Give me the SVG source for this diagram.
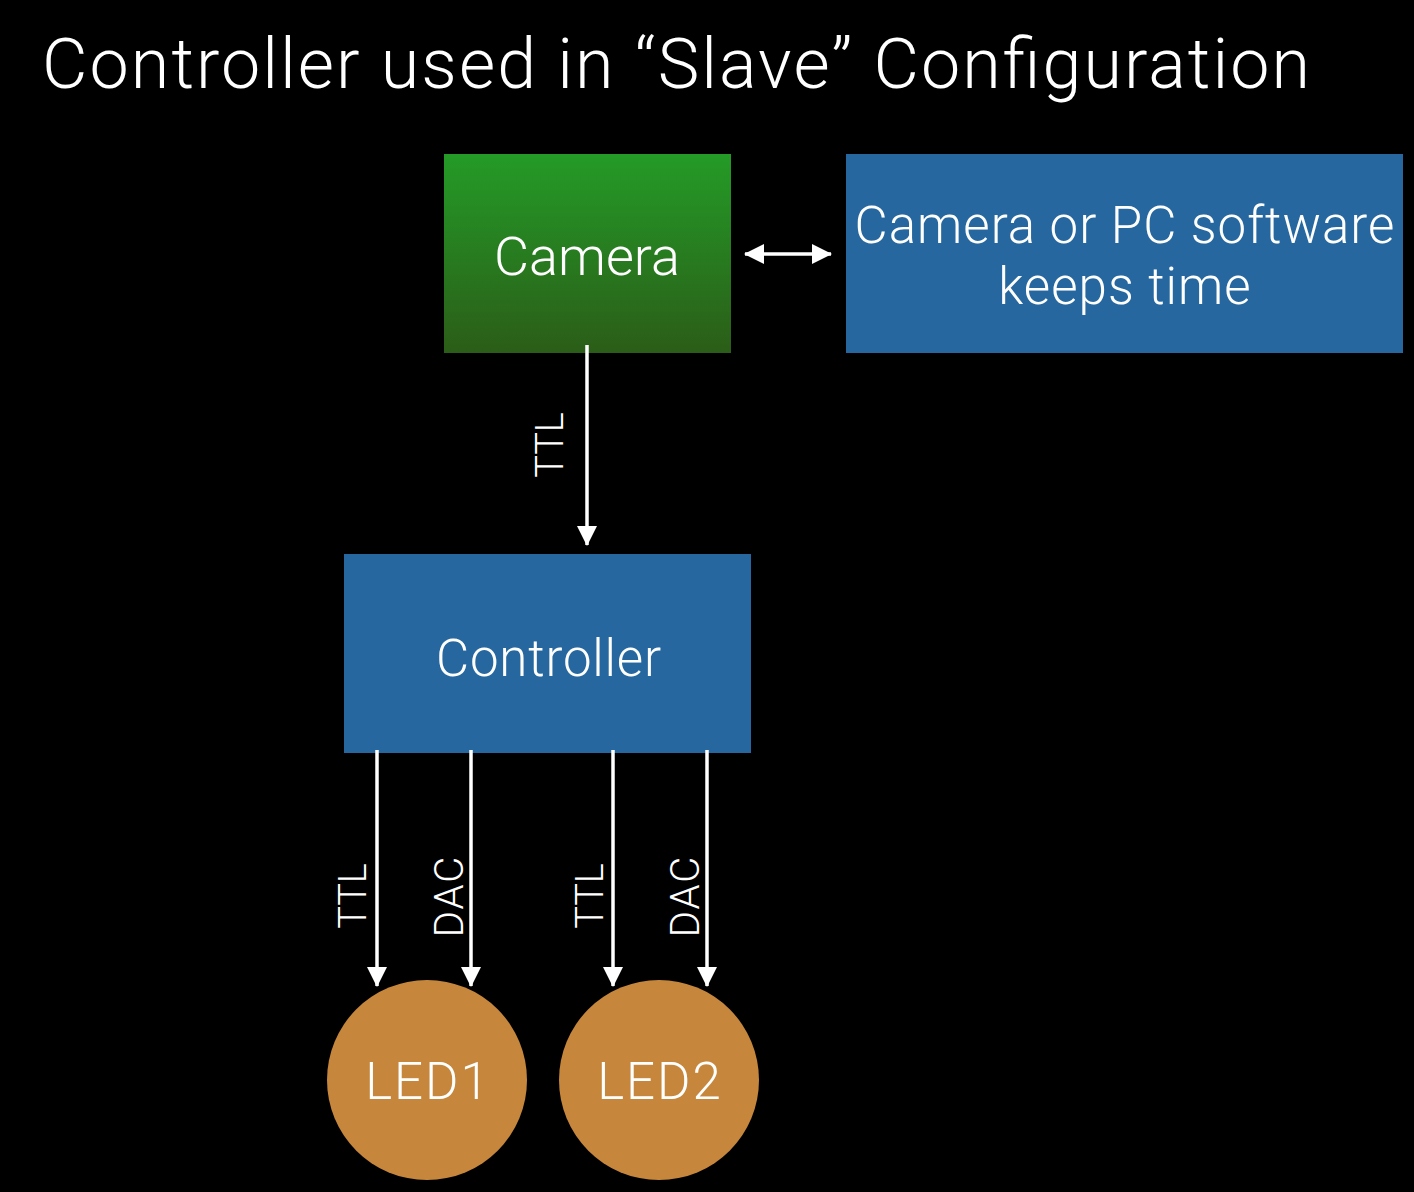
<svg xmlns="http://www.w3.org/2000/svg" width="1414" height="1192" viewBox="0 0 1414 1192">
<style>
text{fill:#fff;font-family:"Helvetica Neue",Roboto,"Liberation Sans",sans-serif;font-weight:300}
.c{text-anchor:middle}
.conn line{stroke:#fff;stroke-width:3.5}
.lbl{font-size:38px}
.dac{font-size:40px;letter-spacing:2px}
</style>
<defs>
<linearGradient id="g" x1="0" y1="0" x2="0" y2="1">
<stop offset="0" stop-color="#249b27"/>
<stop offset="1" stop-color="#2b5d18"/>
</linearGradient>
<marker id="ah" viewBox="0 0 20 20" refX="19" refY="10" markerWidth="20" markerHeight="20" markerUnits="userSpaceOnUse" orient="auto-start-reverse">
<path d="M0,0 L20,10 L0,20 Z" fill="#fff"/>
</marker>
</defs>
<rect width="1414" height="1192" fill="#000"/>
<text x="42" y="88" font-size="70" textLength="1268">Controller used in “Slave” Configuration</text>
<g id="camera">
<rect x="444" y="154" width="287" height="199" fill="url(#g)"/>
<text class="c" x="587" y="275" font-size="54">Camera</text>
</g>
<g id="software">
<rect x="846" y="154" width="557" height="199" fill="#25679e"/>
<text class="c" x="1125" y="243" font-size="51" letter-spacing="1">Camera or PC software</text>
<text class="c" x="1125" y="304" font-size="51" letter-spacing="1">keeps time</text>
</g>
<g id="controller">
<rect x="344" y="554" width="407" height="199" fill="#25679e"/>
<text class="c" x="549" y="676" font-size="51" letter-spacing="0.8">Controller</text>
</g>
<g id="led1">
<circle cx="427" cy="1080" r="100" fill="#c6873c"/>
<text class="c" x="428" y="1099" font-size="51" letter-spacing="2">LED1</text>
</g>
<g id="led2">
<circle cx="659" cy="1080" r="100" fill="#c6873c"/>
<text class="c" x="660" y="1099" font-size="51" letter-spacing="2">LED2</text>
</g>
<g id="connectors" class="conn">
<line x1="745" y1="254" x2="831" y2="254" marker-start="url(#ah)" marker-end="url(#ah)"/>
<line x1="587" y1="345" x2="587" y2="545" marker-end="url(#ah)"/>
<line x1="377" y1="750" x2="377" y2="986" marker-end="url(#ah)"/>
<line x1="471" y1="750" x2="471" y2="986" marker-end="url(#ah)"/>
<line x1="613" y1="750" x2="613" y2="986" marker-end="url(#ah)"/>
<line x1="707" y1="750" x2="707" y2="986" marker-end="url(#ah)"/>
<text class="c lbl" transform="translate(563,445) rotate(-90)">TTL</text>
<text class="c lbl" transform="translate(366,896) rotate(-90)">TTL</text>
<text class="c dac" transform="translate(463,896) rotate(-90)">DAC</text>
<text class="c lbl" transform="translate(603,896) rotate(-90)">TTL</text>
<text class="c dac" transform="translate(699,896) rotate(-90)">DAC</text>
</g>
</svg>
